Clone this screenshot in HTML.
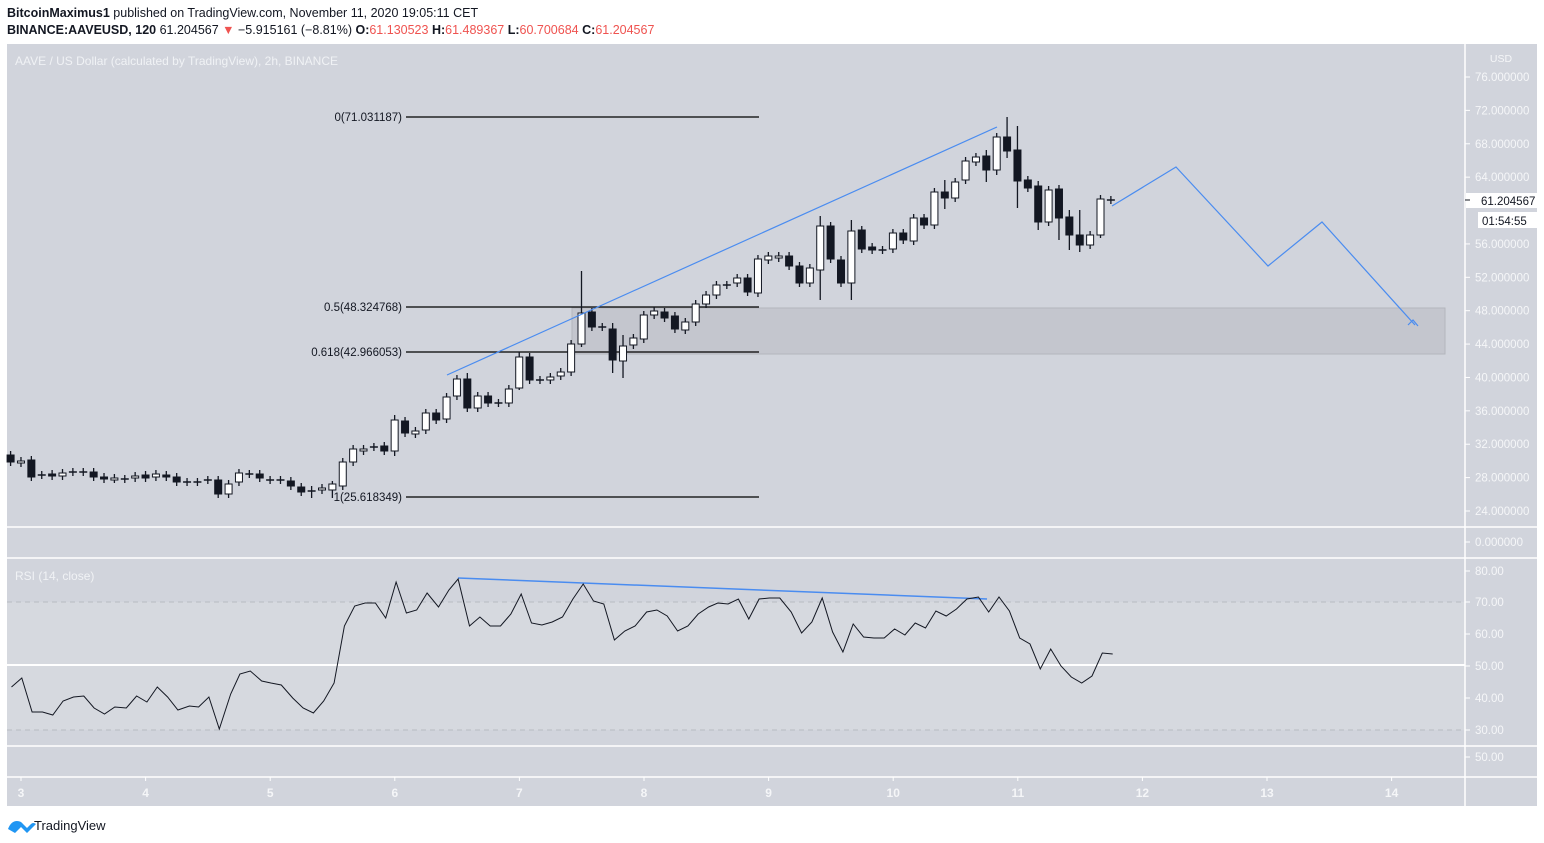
<!DOCTYPE html>
<html><head><meta charset="utf-8"><style>
body{margin:0;background:#fff;width:1544px;height:843px;overflow:hidden;font-family:"Liberation Sans",sans-serif}
svg{position:absolute;left:0;top:0}
</style></head><body>
<svg id="s" width="1544" height="843" xmlns="http://www.w3.org/2000/svg" font-family="Liberation Sans, sans-serif">
<text x="7" y="17" font-size="12.5" fill="#131722"><tspan font-weight="bold">BitcoinMaximus1</tspan> published on TradingView.com, November 11, 2020 19:05:11 CET</text>
<text x="7" y="34" font-size="12.5" fill="#131722"><tspan font-weight="bold">BINANCE:AAVEUSD, 120</tspan> 61.204567 <tspan fill="#ef5350">▼</tspan> −5.915161 (−8.81%) <tspan font-weight="bold">O:</tspan><tspan fill="#ef5350">61.130523</tspan> <tspan font-weight="bold">H:</tspan><tspan fill="#ef5350">61.489367</tspan> <tspan font-weight="bold">L:</tspan><tspan fill="#ef5350">60.700684</tspan> <tspan font-weight="bold">C:</tspan><tspan fill="#ef5350">61.204567</tspan></text>
<rect x="7" y="44" width="1530" height="762" fill="#d1d4dc"/>
<rect x="7" y="602" width="1458" height="128" fill="#d6d9df"/>
<g stroke="#fff" stroke-width="1.5">
<line x1="1465" y1="44" x2="1465" y2="806"/>
<line x1="7" y1="527" x2="1537" y2="527"/>
<line x1="7" y1="558" x2="1537" y2="558"/>
<line x1="7" y1="746" x2="1537" y2="746"/>
<line x1="7" y1="777" x2="1537" y2="777"/>
<line x1="7" y1="665" x2="1465" y2="665" stroke-width="2"/>
</g>
<g stroke="#b8bbc2" stroke-dasharray="5,4"><line x1="7" y1="602" x2="1465" y2="602"/><line x1="7" y1="730" x2="1465" y2="730"/></g>
<text x="15" y="65" font-size="12" fill="#f0f2f5">AAVE / US Dollar (calculated by TradingView), 2h, BINANCE</text>
<text x="15" y="580" font-size="12" fill="#f0f2f5">RSI (14, close)</text>
<g id="yax" font-size="11.5" fill="#f5f6f8"></g>
<rect x="572" y="308" width="873" height="46" fill="#c4c6ce" stroke="#b3b6bd"/>
<g stroke="#000" stroke-width="1.3">
<line x1="406" y1="117" x2="759" y2="117"/>
<line x1="406" y1="307" x2="759" y2="307"/>
<line x1="406" y1="352" x2="759" y2="352"/>
<line x1="406" y1="497" x2="759" y2="497"/>
</g>
<g font-size="11.5" fill="#131722" text-anchor="end">
<text x="402" y="121">0(71.031187)</text>
<text x="402" y="311">0.5(48.324768)</text>
<text x="402" y="356">0.618(42.966053)</text>
<text x="402" y="501">1(25.618349)</text>
</g>
<g id="candles"></g>
<g stroke="#4a8cf0" stroke-width="1.2" fill="none">
<line x1="447" y1="375" x2="997" y2="127"/>
<polyline points="1112,206 1176,167 1268,266 1322,222 1415,325"/>
<polyline points="1408,325 1413,320 1418,326"/>
<line x1="458" y1="578" x2="987" y2="599" stroke-width="1.5"/>
</g>
<polyline id="rsi" fill="none" stroke="#131722" stroke-width="1"/>
<g id="xax" font-size="12" fill="#f5f6f8" text-anchor="middle" font-weight="bold"></g>
<rect x="1466" y="193" width="71" height="15" fill="#fff"/>
<text x="1481" y="205" font-size="11.5" fill="#131722">61.204567</text>
<rect x="1478" y="212" width="59" height="16" fill="#fff"/>
<text x="1482" y="225" font-size="11.5" fill="#131722">01:54:55</text>
<line x1="1465" y1="200" x2="1470" y2="200" stroke="#131722"/>
<text x="1501" y="62" font-size="10.5" fill="#f5f6f8" text-anchor="middle">USD</text>
<path d="M8 829 q3-8 9-8 q4 0 6 3 l4 4 l4-4 q2-2 5 0 l-3 3 l-6 6 l-6-6 l-6 6 z" fill="#2196f3"/>
<text x="34" y="830" font-size="13" fill="#131722">TradingView</text>
</svg>
<script>
const NS="http://www.w3.org/2000/svg";
function el(p,t,a,txt){const e=document.createElementNS(NS,t);for(const k in a)e.setAttribute(k,a[k]);if(txt!==undefined)e.textContent=txt;p.appendChild(e);return e;}
const ya=document.getElementById('yax');
[76,72,68,64,56,52,48,44,40,36,32,28,24].forEach(v=>{const y=77+(76-v)*8.346;el(ya,'line',{x1:1465,x2:1470,y1:y,y2:y,stroke:'#fff'});el(ya,'text',{x:1475,y:y+4},v.toFixed(6));});
el(ya,'line',{x1:1465,x2:1470,y1:542,y2:542,stroke:'#fff'});el(ya,'text',{x:1475,y:546},'0.000000');
[[80,571],[70,602],[60,634],[50,666],[40,698],[30,730],[50,757]].forEach(([v,y])=>{el(ya,'line',{x1:1465,x2:1470,y1:y,y2:y,stroke:'#fff'});el(ya,'text',{x:1475,y:y+4},v.toFixed(2));});
const xa=document.getElementById('xax');
for(let d=3;d<=14;d++){const x=21+(d-3)*124.6;el(xa,'line',{x1:x,x2:x,y1:777,y2:781,stroke:'#fff'});el(xa,'text',{x:x,y:797},d);}
const C=[[455,462,1],[461,463,0],[460,477,1],[475,475,2],[474,476,1],[473,476,0],[472,472,2],[472,472,2],[472,477,1],[477,479,1],[478,479,0],[479,479,2],[476,478,0],[475,478,1],[474,477,0],[475,477,1],[477,482,1],[482,482,2],[482,482,2],[480,480,2],[480,494,1],[484,494,0],[473,482,0],[474,474,2],[474,478,1],[480,480,2],[480,480,2],[481,486,1],[487,492,1],[491,491,2],[488,490,0],[484,490,0],[462,486,0],
[449,462,0],[449,451,0],[447,447,2],[446,451,1],[420,451,0],[421,433,1],[431,434,0],[413,430,0],[413,420,1],[397,419,0],[379,396,0],[379,408,1],[396,408,0],[396,403,1],[403,403,2],[389,403,0],[357,388,0],[357,380,1],[380,380,2],[377,380,0],[372,376,0],[344,372,0],[313,344,0],[312,327,1],[327,327,2],[329,360,1],[346,361,0],[338,345,0],[315,339,0],[311,315,0],[312,318,1],[316,329,1],[322,330,0],[304,322,0],[295,304,0],[285,295,0],[285,285,2],[278,283,0],[278,292,1],[259,293,0],
[256,260,0],[256,258,0],[256,266,1],[266,283,1],[268,283,0],[226,270,0],[226,259,1],[260,283,1],[231,283,0],[230,249,1],[247,250,1],[250,250,2],[233,249,0],[233,240,1],[218,241,0],[218,225,1],[192,225,0],[192,198,1],[182,198,0],[161,180,0],[157,162,0],[156,170,1],[137,170,0],[137,151,1],[150,181,1],[180,188,1],[186,222,1],[190,222,0],[189,218,1],[217,235,1],[235,245,1],[235,245,0],[199,235,0],[200,200,2]];
const W={55:[271,347],78:[216,300],81:[220,300],96:[117,158],97:[126,208],99:[181,230],101:[185,240],95:[133,175],58:[323,373],59:[335,378],37:[415,456],44:[373,412],49:[352,390],94:[150,182],103:[210,252],102:[210,250],105:[195,238],29:[486,498],31:[481,498],90:[180,209]};
const g=document.getElementById('candles');
C.forEach((c,i)=>{const x=10.6+i*10.38;let [t,b,d]=c;let hi=t-4,lo=b+4;if(W[i]){hi=W[i][0];lo=W[i][1];}
el(g,'line',{x1:x,x2:x,y1:hi,y2:lo,stroke:'#131722','stroke-width':1.3});
if(d==2){el(g,'line',{x1:x-4,x2:x+4,y1:t,y2:t,stroke:'#131722','stroke-width':1.5});}
else el(g,'rect',{x:x-3.5,y:t,width:7,height:Math.max(b-t,2),fill:d?'#131722':'#fff',stroke:'#131722','stroke-width':1});});
const R=[[10,687],[19,678],[28,712],[37,712],[46,715],[55,701],[64,697],[73,696],[82,708],[91,714],[100,707],[110,708],[119,696],[128,702],[137,687],[146,697],[155,710],[165,706],[173,707],[182,697],[191,729],[201,694],[209,674],[218,671],[228,681],[236,683],[245,685],[255,698],[264,708],[273,713],[282,701],[291,683],[300,626],[309,606],[318,603],[327,603],[336,618],[345,582],[354,613],[363,610],[372,593],[382,607],[391,590],[399,579],[409,626],[418,617],[427,626],[436,626],[445,614],[454,594],[463,623],[472,625],[481,622],[490,617],[499,599],[508,584],[517,601],[526,604]];
const R6=[[610,640],[619,631],[628,626],[638,612],[647,610],[656,616],[665,631],[674,626],[683,614],[692,607],[700,603],[709,604],[718,599],[727,619],[736,599],[745,598],[754,598],[764,612],[773,633],[782,622],[791,598],[800,632],[809,652],[818,624],[827,637],[836,638],[845,638],[854,629],[863,635],[872,623],[881,628],[890,611],[899,616],[908,609],[917,599],[927,597],[936,612],[945,597],[954,611],[963,638],[972,644],[981,669],[990,649],[999,666],[1008,677],[1017,683],[1026,676],[1035,653],[1044,654]];
const pts=R.map(p=>[p[0]*1.148,p[1]]).concat(R6.map(p=>[580+(p[0]-580)*1.148,p[1]]));
document.getElementById('rsi').setAttribute('points',pts.map(p=>p[0].toFixed(1)+','+p[1]).join(' '));
</script>
</body></html>
